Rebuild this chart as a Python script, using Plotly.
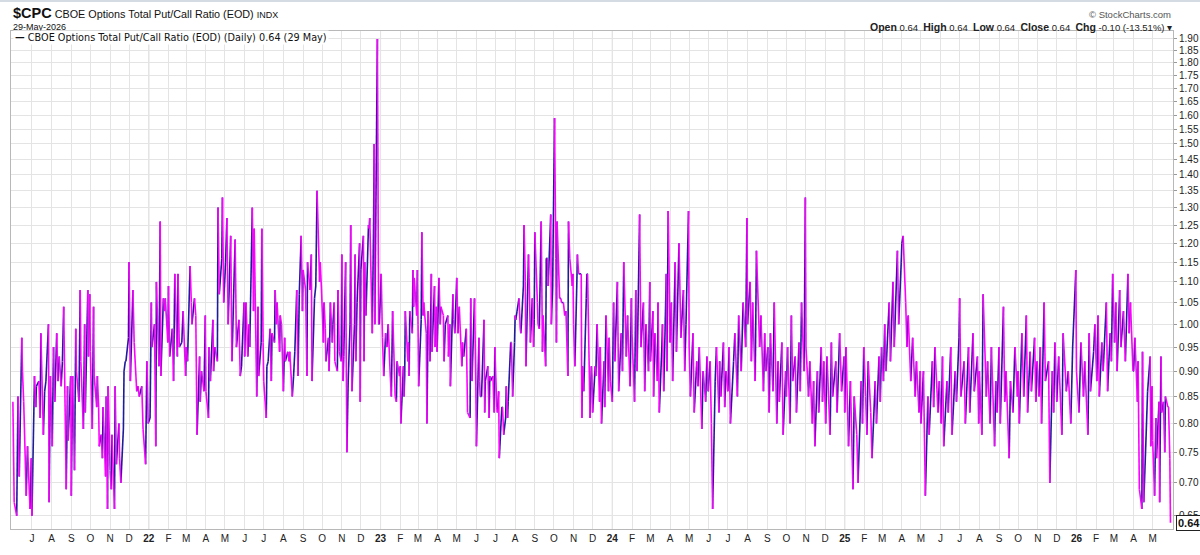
import numpy as np
import pandas as pd
import plotly.graph_objects as go

# ---------------- data: CBOE total put/call ratio, month-by-month readings ----------------
# each year: list of months (first month given by the *_start value), each month a list of readings
start_2021 = 6
m2021 = [
    [0.84, 0.67, 0.65, 0.85, 0.71, 0.97, 0.90, 0.84, 0.68, 0.76, 0.66, 0.74],
    [0.65, 0.89, 0.83, 0.87, 0.88, 0.81, 0.98, 0.78, 0.86, 0.88, 1.00, 0.67, 0.89],
    [0.76, 0.95, 0.84, 0.98, 0.88, 0.93, 0.87, 0.92, 1.04, 0.69, 0.87, 0.77, 0.89],
    [0.68, 0.89, 0.72, 0.99, 0.90, 0.84, 1.08, 0.92, 0.79, 1.00, 0.82, 1.08, 0.93, 1.07],
    [0.94, 0.79, 1.04, 0.89, 0.83, 0.89, 0.83, 0.76, 0.78, 0.74, 0.83, 0.71, 0.85, 0.66, 0.87],
    [0.72, 0.69, 0.78, 0.66, 0.87, 0.73, 0.80, 0.74, 0.70, 0.79, 0.90, 0.92, 0.92, 0.97],
    [1.15, 0.88, 1.08, 0.96, 0.86, 0.87, 0.85, 0.87, 0.79, 0.73, 0.92, 0.80],
]
start_2022 = 1
m2022 = [
    [0.81, 1.05, 0.95, 1.00, 0.76, 1.10, 0.91, 1.26, 0.89, 1.06, 1.03, 1.06, 0.96],
    [1.09, 0.93, 0.99, 0.88, 1.12, 0.93, 1.12, 0.95, 0.96, 1.03, 0.89],
    [0.95, 0.92, 1.14, 1.05, 1.00, 1.06, 1.02, 0.78, 0.93, 0.84, 0.90, 0.86, 1.02],
    [0.86, 0.81, 0.95, 0.88, 1.01, 0.90, 0.95, 0.92, 1.30, 1.07, 1.16, 1.33, 1.05],
    [1.15, 1.27, 1.00, 1.22, 0.92, 1.15, 1.21, 0.95, 1.01, 0.89, 0.91, 1.05],
    [0.93, 1.05, 0.93, 1.00, 0.95, 1.30, 1.03, 1.24, 0.85, 1.04, 0.89, 0.96, 1.24, 0.96],
    [0.88, 0.81, 0.91, 0.92, 0.99, 0.88, 0.98, 0.96, 1.08, 1.00, 1.05, 0.94, 1.02, 1.00],
    [0.86, 0.97, 0.92, 0.94, 0.92, 0.94, 0.85, 0.89, 0.94, 1.08, 0.89, 1.07, 1.22, 1.03],
    [1.13, 1.08, 0.89, 1.15, 1.08, 1.17, 0.88, 1.06, 1.09, 1.35, 1.10, 1.15, 1.08],
    [0.96, 1.05, 0.99, 0.92, 0.97, 0.90, 1.05, 0.96, 1.00, 1.05, 0.92, 0.90, 1.08, 0.94, 0.92],
    [1.17, 0.88, 0.93, 1.15, 0.75, 0.88, 1.00, 1.25, 0.86, 1.00, 1.17, 0.92, 1.05, 1.20, 0.84],
    [1.13, 1.22, 0.92, 1.15, 1.02, 1.25, 1.24, 1.27, 0.98, 1.25, 1.50, 1.00, 1.90, 1.00, 1.00],
]
start_2023 = 1
m2023 = [
    [1.12, 0.97, 0.89, 0.98, 0.95, 1.00, 0.90, 0.85, 1.03, 0.85, 0.84, 0.92, 0.89],
    [0.91, 0.80, 0.91, 0.85, 0.89, 1.03, 0.92, 0.96, 0.89, 1.03, 0.98, 1.13, 1.04, 1.11, 1.02, 1.13],
    [1.00, 0.87, 1.01, 1.23, 1.02, 1.05, 0.98, 0.80, 1.03, 0.92, 1.12, 0.94, 1.09, 0.95, 1.04, 0.94],
    [1.11, 1.00, 1.04, 1.02, 0.92, 1.00, 1.02, 0.93, 1.00, 0.87, 1.07, 1.01, 0.98],
    [1.11, 0.98, 1.04, 0.91, 0.96, 0.93, 0.99, 0.82, 0.81, 1.06, 0.88, 1.06, 0.88],
    [0.76, 0.97, 0.88, 0.85, 0.85, 1.01, 0.82, 0.88, 0.91, 0.81, 0.89, 0.88, 0.89, 0.82, 0.95],
    [0.83, 0.82, 0.86, 0.74, 0.83, 0.83, 0.78, 0.81, 0.87, 0.81, 0.84, 0.96, 0.96, 0.85, 0.96],
    [1.02, 1.01, 1.03, 1.06, 0.99, 0.98, 1.09, 1.25, 1.10, 0.91, 1.17, 1.11, 0.96, 1.06, 0.95, 1.01],
    [1.23, 1.05, 1.00, 0.99, 1.26, 0.94, 1.02, 0.91, 1.16, 1.16, 1.09, 1.28, 1.00, 1.09],
    [1.59, 1.16, 0.96, 1.26, 1.06, 1.06, 1.05, 1.05, 1.02, 1.03, 0.89, 1.26, 1.16, 1.09, 1.12],
    [1.00, 0.91, 1.09, 1.17, 1.12, 1.12, 0.81, 0.91, 0.86, 1.06, 1.12, 1.12, 0.81, 0.91, 0.89],
    [0.82, 0.91, 0.89, 1.00, 0.84, 0.95, 0.80, 0.92, 0.83, 1.02, 0.86, 0.97, 0.88],
]
start_2024 = 1
m2024 = [
    [0.84, 1.05, 0.92, 1.10, 0.86, 0.98, 0.90, 1.15, 0.93, 1.02, 0.87, 1.06],
    [0.98, 0.84, 1.08, 0.90, 1.28, 0.95, 1.05, 0.86, 1.00, 0.90, 1.10],
    [0.92, 1.03, 0.85, 0.98, 0.88, 1.05, 0.82, 0.95, 1.00, 0.86, 1.12, 0.90, 1.29],
    [0.96, 1.05, 0.88, 1.15, 0.94, 1.20, 0.97, 1.08, 0.90, 1.00, 1.29],
    [0.95, 0.85, 0.98, 0.82, 0.92, 0.87, 0.95, 0.79, 0.90, 0.84, 0.93, 0.86],
    [0.92, 0.80, 0.66, 0.88, 0.95, 0.82, 0.92, 0.85, 0.96, 0.83, 0.90],
    [0.86, 0.95, 0.80, 0.92, 0.98, 0.85, 1.02, 0.90, 1.05, 0.95, 1.27],
    [1.00, 1.10, 0.92, 1.05, 0.88, 1.18, 0.95, 1.02, 0.86, 0.98, 0.90],
    [0.95, 0.82, 0.98, 0.86, 1.05, 0.80, 0.92, 0.84, 0.96, 0.78, 0.90],
    [0.85, 0.95, 0.80, 1.02, 0.88, 0.93, 0.82, 0.96, 0.86, 1.05, 0.90, 1.33],
    [0.95, 0.85, 0.92, 0.80, 0.88, 0.76, 0.90, 0.82, 0.95, 0.84, 0.92],
    [0.80, 0.93, 0.78, 0.96, 0.85, 0.92, 0.82, 0.98, 0.86, 0.93],
]
start_2025 = 1
m2025 = [
    [0.82, 0.95, 0.76, 0.88, 0.69, 0.85, 0.78, 0.70, 0.88, 0.80, 0.95],
    [0.85, 0.78, 0.92, 0.82, 0.74, 0.88, 0.80, 0.93, 0.84, 0.95],
    [0.88, 1.00, 0.90, 1.05, 0.92, 1.10, 0.95, 1.18, 1.00, 1.15],
    [1.20, 1.22, 1.05, 0.95, 1.02, 0.88, 0.97, 0.85, 0.92, 0.82, 0.90],
    [0.80, 0.90, 0.68, 0.85, 0.78, 0.92, 0.83, 0.95, 0.82, 0.88],
    [0.80, 0.93, 0.76, 0.88, 0.82, 0.95, 0.78, 0.90, 0.84, 0.97],
    [1.06, 0.85, 0.92, 0.80, 0.95, 0.82, 0.98, 0.86, 0.93, 0.80],
    [0.90, 0.78, 1.07, 0.85, 0.92, 0.80, 0.95, 0.76, 0.88, 0.82],
    [0.95, 0.80, 1.04, 0.84, 0.90, 0.74, 0.88, 0.82, 0.95, 0.85],
    [0.90, 0.80, 0.98, 0.85, 1.02, 0.82, 0.94, 0.86, 0.97, 0.84, 0.92],
    [0.85, 0.95, 0.80, 1.05, 0.88, 0.92, 0.70, 0.90, 0.82, 0.96],
    [0.84, 0.93, 0.78, 0.98, 0.86, 0.90, 0.80, 0.95, 1.13],
]
start_2026 = 1
m2026 = [
    [0.90, 0.82, 0.96, 0.85, 0.92, 0.78, 0.98, 0.86, 0.94, 1.00],
    [0.88, 1.02, 0.85, 0.96, 0.90, 1.05, 0.86, 0.98, 0.92, 1.12],
    [0.96, 1.05, 0.90, 1.08, 0.95, 1.03, 0.92, 1.12, 0.98, 1.05, 0.90],
    [0.90, 0.97, 0.84, 0.92, 0.69, 0.66, 0.94, 0.67, 0.79, 0.86, 0.93, 0.76, 0.87],
    [0.77, 0.68, 0.81, 0.74, 0.84, 0.67, 0.93, 0.82, 0.84, 0.75, 0.85, 0.83, 0.83, 0.74, 0.64],
]

y_tick_values = [0.65, 0.70, 0.75, 0.80, 0.85, 0.90, 0.95, 1.00, 1.05, 1.10, 1.15, 1.20, 1.25,
                 1.30, 1.35, 1.40, 1.45, 1.50, 1.55, 1.60, 1.65, 1.70, 1.75, 1.80, 1.85, 1.90]
month_letters = ["J", "F", "M", "A", "M", "J", "J", "A", "S", "O", "N", "D"]
x_tick_first = "2021-07-01"
x_tick_last = "2026-05-01"

# ---------------- build series ----------------
years = [(2021, start_2021, m2021), (2022, start_2022, m2022), (2023, start_2023, m2023),
         (2024, start_2024, m2024), (2025, start_2025, m2025), (2026, start_2026, m2026)]
xs, ys = [], []
for yr, m0, months in years:
    for k, vals in enumerate(months):
        start = pd.Timestamp(yr, m0 + k, 1)
        end = start + pd.offsets.MonthEnd(0)
        bd = pd.bdate_range(start, end)
        idx = np.round(np.linspace(0, len(bd) - 1, len(vals))).astype(int)
        xs.extend(list(bd[idx]))
        ys.extend(vals)

up_x, up_y, dn_x, dn_y = [], [], [], []
for i in range(len(ys) - 1):
    if ys[i + 1] >= ys[i]:
        up_x += [xs[i], xs[i + 1], None]
        up_y += [ys[i], ys[i + 1], None]
    else:
        dn_x += [xs[i], xs[i + 1], None]
        dn_y += [ys[i], ys[i + 1], None]

last = ys[-1]
prev = ys[-2]
chg = last - prev
pct = chg / prev * 100

fig = go.Figure()
fig.add_trace(go.Scatter(x=up_x, y=up_y, mode="lines", line=dict(color="#1e1c98", width=1.6),
                         hoverinfo="skip", showlegend=False))
fig.add_trace(go.Scatter(x=dn_x, y=dn_y, mode="lines", line=dict(color="#ff00ff", width=1.6),
                         hoverinfo="skip", showlegend=False))

# x ticks
tick_dates = pd.date_range(x_tick_first, x_tick_last, freq="MS")
tick_text = [("<b>%02d</b>" % (d.year % 100)) if d.month == 1 else month_letters[d.month - 1]
             for d in tick_dates]

fig.update_xaxes(
    type="date", range=["2021-05-29", "2026-06-02"], automargin=False,
    tickmode="array", tickvals=list(tick_dates), ticktext=tick_text,
    showgrid=True, gridcolor="#e4e4e4", gridwidth=1,
    showline=True, linecolor="#b8b8b8", linewidth=1, mirror=True,
    ticks="", tickfont=dict(family="Liberation Sans, Arial", size=10, color="#222"),
    zeroline=False,
)
fig.update_yaxes(
    type="log", range=[np.log10(0.631), np.log10(1.934)], side="right", automargin=False,
    tickmode="array", tickvals=y_tick_values, ticktext=["%.2f" % v for v in y_tick_values],
    showgrid=True, gridcolor="#e4e4e4", gridwidth=1,
    showline=True, linecolor="#b8b8b8", linewidth=1, mirror=True,
    ticks="outside", ticklen=3, tickcolor="#999",
    tickfont=dict(family="Liberation Sans, Arial", size=10, color="#222"),
    zeroline=False,
)

W, H = 1200, 555
L, R, T, B = 11, 27, 31, 26
pw, ph = W - L - R, H - T - B


def px(xp):
    return (xp - L) / pw


def py(yp):
    return (H - B - yp) / ph


def lab(s):
    return "<b><span style='font-size:10.5px'>%s</span></b>" % s


ann = []
ann.append(dict(xref="paper", yref="paper", x=px(11), y=py(13), xanchor="left", yanchor="middle",
                text="<b><span style='font-size:14.5px'>$CPC</span></b> CBOE Options Total Put/Call Ratio (EOD) "
                     "<span style='font-size:9px'>INDX</span>",
                showarrow=False, font=dict(family="Liberation Sans, Arial", size=10.8, color="#111")))
ann.append(dict(xref="paper", yref="paper", x=px(11), y=py(27), xanchor="left", yanchor="middle",
                text="29-May-2026", showarrow=False,
                font=dict(family="Liberation Sans, Arial", size=9, color="#111")))
ann.append(dict(xref="paper", yref="paper", x=px(1173), y=py(14), xanchor="right", yanchor="middle",
                text="\u00a9 StockCharts.com", showarrow=False,
                font=dict(family="Liberation Sans, Arial", size=9.5, color="#555")))
ann.append(dict(xref="paper", yref="paper", x=px(1174), y=py(27), xanchor="right", yanchor="middle",
                text=("%s %.2f  %s %.2f  %s %.2f  %s %.2f  %s %.2f (%.2f%%) \u25be")
                     % (lab("Open"), last, lab("High"), last, lab("Low"), last, lab("Close"), last,
                        lab("Chg"), chg, pct),
                showarrow=False, font=dict(family="Liberation Sans, Arial", size=9.5, color="#222")))
ann.append(dict(xref="paper", yref="paper", x=px(13), y=py(37), xanchor="left", yanchor="middle",
                text="<b>\u2014</b> CBOE Options Total Put/Call Ratio (EOD) (Daily) %.2f (29 May)" % last,
                showarrow=False, bgcolor="white", borderpad=1,
                font=dict(family="DejaVu Sans, Verdana", size=9.7, color="#111")))
ann.append(dict(xref="paper", yref="y", x=1.003, y=np.log10(last), xanchor="left", yanchor="middle",
                text="<b>%.2f</b>" % last, showarrow=False, bgcolor="white",
                bordercolor="#222", borderwidth=1, borderpad=1,
                font=dict(family="Liberation Sans, Arial", size=11, color="#111")))

fig.update_layout(
    width=W, height=H,
    margin=dict(l=L, r=R, t=T, b=B, autoexpand=False),
    paper_bgcolor="white", plot_bgcolor="white",
    annotations=ann,
    shapes=[dict(type="line", xref="paper", yref="paper", x0=-L / pw, x1=(W - L) / pw,
                 y0=py(1), y1=py(1), line=dict(color="#d5dbe3", width=2))],
)
for d in tick_dates:
    if d.month == 1:
        fig.add_vline(x=d, line=dict(color="#c8c8c8", width=1), layer="below")

fig.write_html("out.html")
